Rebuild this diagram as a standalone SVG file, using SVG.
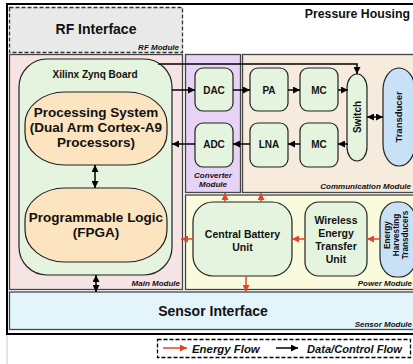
<svg xmlns="http://www.w3.org/2000/svg" width="413" height="364" viewBox="0 0 413 364">
<style>
text{font-family:"Liberation Sans",Arial,Helvetica,sans-serif;font-weight:bold;fill:#111}
.mod{stroke:#444;stroke-width:1.3}
.node{stroke:#222;stroke-width:1.2}
.grn{fill:#e5f4de}
.org{fill:#fbe4bf}
.blu{fill:#c8e1f6}
.ml{font-size:8px;font-style:italic;text-anchor:end}
.t10{font-size:10px;text-anchor:middle}
.t11{font-size:10.5px;text-anchor:middle}
.big{font-size:13.5px;text-anchor:middle}
.dat{stroke:#000;stroke-width:1.5;fill:none;marker-end:url(#ab)}
.dd{stroke:#000;stroke-width:1.5;fill:none;marker-end:url(#ab);marker-start:url(#ab)}
.en{stroke:#e8432a;stroke-width:1.5;fill:none;marker-end:url(#ar)}
</style>
<defs>
<marker id="ab" markerUnits="userSpaceOnUse" markerWidth="8" markerHeight="7" refX="7" refY="3.5" orient="auto-start-reverse"><path d="M0,0 L7,3.5 L0,7 Z" fill="#000"/></marker>
<marker id="ar" markerUnits="userSpaceOnUse" markerWidth="8" markerHeight="7" refX="7" refY="3.5" orient="auto-start-reverse"><path d="M0,0 L7,3.5 L0,7 Z" fill="#e8432a"/></marker>
</defs>
<rect x="0" y="0" width="413" height="364" fill="#fff"/>
<line x1="7" y1="334" x2="7" y2="364" stroke="#ccc" stroke-width="1"/>
<g id="housing">
<rect x="7" y="4" width="420" height="330" fill="#fff" stroke="#000" stroke-width="2"/>
<text x="410" y="18" style="font-size:12.3px;text-anchor:end">Pressure Housing</text>
</g>
<g id="rf-module">
<rect x="9.5" y="7.5" width="173" height="45" fill="#e9e9e9" stroke="#333" stroke-width="1.3" stroke-dasharray="4,2"/>
<text x="96" y="34" style="font-size:14px;text-anchor:middle">RF Interface</text>
<text class="ml" x="179" y="50">RF Module</text>
</g>
<g id="main-module">
<rect class="mod" x="9.5" y="54.5" width="173" height="235" fill="#f6e3e3"/>
<text class="ml" x="180" y="286">Main Module</text>
</g>
<g id="converter-module">
<rect class="mod" x="185.5" y="54.5" width="55" height="138" fill="#e6d3f6"/>
<text x="213" y="178" style="font-size:8px;font-style:italic;text-anchor:middle">Converter</text>
<text x="213" y="187" style="font-size:8px;font-style:italic;text-anchor:middle">Module</text>
</g>
<g id="communication-module">
<rect class="mod" x="242.5" y="54.5" width="180" height="138" fill="#f6ebdd"/>
<text class="ml" x="411" y="189">Communication Module</text>
</g>
<g id="power-module">
<rect class="mod" x="185.5" y="195" width="237" height="94.5" fill="#fafadd"/>
<text class="ml" x="412" y="286">Power Module</text>
</g>
<g id="sensor-module">
<rect class="mod" x="9.5" y="292" width="413" height="37.5" fill="#e3f5fa"/>
<text x="213" y="316" style="font-size:14px;text-anchor:middle">Sensor Interface</text>
<text class="ml" x="412" y="327">Sensor Module</text>
</g>
<g id="zynq-board">
<rect class="node grn" x="19" y="59" width="153" height="216" rx="28" ry="28"/>
<text x="95" y="78" style="font-size:10px;text-anchor:middle">Xilinx Zynq Board</text>
</g>
<g id="processing-system">
<rect class="node org" x="25" y="92" width="142" height="73" rx="40" ry="32"/>
<text class="big" x="96" y="117">Processing System</text>
<text class="big" x="96" y="132">(Dual Arm Cortex-A9</text>
<text class="big" x="96" y="147">Processors)</text>
</g>
<g id="programmable-logic">
<rect class="node org" x="25" y="188" width="142" height="74" rx="40" ry="32"/>
<text class="big" x="96" y="222">Programmable Logic</text>
<text class="big" x="96" y="237">(FPGA)</text>
</g>
<g id="dac"><rect class="node grn" x="195" y="68" width="38" height="43" rx="8"/><text class="t10" x="214" y="94">DAC</text></g>
<g id="adc"><rect class="node grn" x="195" y="123" width="38" height="44" rx="8"/><text class="t10" x="214" y="148">ADC</text></g>
<g id="pa"><rect class="node grn" x="250" y="68" width="38" height="43" rx="8"/><text class="t10" x="269" y="94">PA</text></g>
<g id="mc-top"><rect class="node grn" x="300" y="68" width="38" height="43" rx="8"/><text class="t10" x="319" y="94">MC</text></g>
<g id="lna"><rect class="node grn" x="250" y="123" width="38" height="44" rx="8"/><text class="t10" x="269" y="148">LNA</text></g>
<g id="mc-bottom"><rect class="node grn" x="300" y="123" width="38" height="44" rx="8"/><text class="t10" x="319" y="148">MC</text></g>
<g id="switch">
<rect class="node grn" x="347" y="74" width="20" height="87" rx="10" ry="14"/>
<text class="t10" transform="translate(357,117) rotate(-90)" y="3.6">Switch</text>
</g>
<g id="transducer">
<rect class="node blu" x="383" y="68" width="32" height="98" rx="16" ry="22"/>
<text class="t10" style="font-size:9.5px" transform="translate(399,117) rotate(-90)" y="3.4">Transducer</text>
</g>
<g id="central-battery">
<rect class="node grn" x="193" y="202" width="99" height="74" rx="20"/>
<text class="t11" x="242.5" y="238">Central Battery</text>
<text class="t11" x="242.5" y="251">Unit</text>
</g>
<g id="wireless-energy">
<rect class="node grn" x="305" y="202" width="62" height="74" rx="14"/>
<text class="t11" x="336" y="224">Wireless</text>
<text class="t11" x="336" y="237">Energy</text>
<text class="t11" x="336" y="250">Transfer</text>
<text class="t11" x="336" y="263">Unit</text>
</g>
<g id="energy-harvesting">
<rect class="node blu" x="380" y="202" width="36" height="75" rx="16" ry="20"/>
<g transform="translate(396,235) rotate(-90)" style="font-size:8.2px;text-anchor:middle">
<text y="-6">Energy</text>
<text y="3">Harvesting</text>
<text y="12">Transducers</text>
</g>
</g>
<g id="connectors">
<line class="dat" x1="172" y1="90" x2="195" y2="90"/>
<line class="dat" x1="233" y1="90" x2="250" y2="90"/>
<line class="dat" x1="288" y1="90" x2="300" y2="90"/>
<line class="dat" x1="338" y1="90" x2="348" y2="90"/>
<polyline class="dat" points="158,64 357,64 357,74"/>
<line class="dat" x1="348" y1="144" x2="338" y2="144"/>
<line class="dat" x1="300" y1="144" x2="288" y2="144"/>
<line class="dat" x1="250" y1="144" x2="233" y2="144"/>
<line class="dat" x1="195" y1="144" x2="172" y2="144"/>
<line class="dd" x1="367" y1="117" x2="383" y2="117"/>
<line class="dd" x1="95" y1="165" x2="95" y2="188"/>
<line class="dd" x1="96" y1="275" x2="96" y2="292"/>
<line class="en" x1="193" y1="239" x2="181" y2="239"/>
<line class="en" x1="305" y1="239" x2="292" y2="239"/>
<line class="en" x1="380" y1="239" x2="367" y2="239"/>
<line class="en" x1="246" y1="276" x2="246" y2="292"/>
<line class="en" x1="225" y1="202" x2="225" y2="193"/>
<line class="en" x1="261" y1="202" x2="261" y2="193"/>
</g>
<g id="legend">
<rect x="157.5" y="339.5" width="253" height="18" fill="#fff" stroke="#000" stroke-width="1.3" stroke-dasharray="4,2"/>
<line class="en" x1="163" y1="348" x2="187" y2="348"/>
<text x="192" y="353" style="font-size:11.4px;font-style:italic">Energy Flow</text>
<line class="dat" x1="276" y1="348" x2="298" y2="348"/>
<text x="307" y="353" style="font-size:11.1px;font-style:italic">Data/Control Flow</text>
</g>
</svg>
